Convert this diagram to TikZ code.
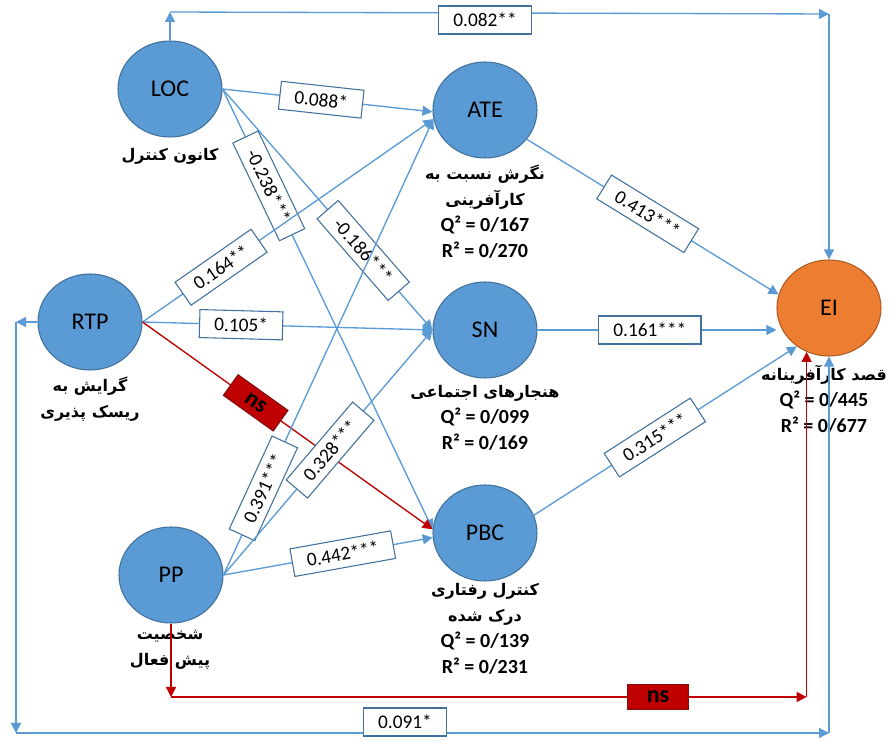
\documentclass[tikz,border=0pt]{standalone}
\usepackage{fontspec}
\setmainfont{Carlito}
\newfontfamily\fafont[Script=Arabic]{DejaVu Sans}
\TeXXeTstate=1
\usetikzlibrary{shapes.geometric,arrows.meta}
\definecolor{nodeblue}{HTML}{5B9BD5}
\definecolor{edgeblue}{HTML}{41719C}
\definecolor{eiorange}{HTML}{ED7D31}
\definecolor{eiedge}{HTML}{AE5A21}
\definecolor{nsred}{HTML}{C00000}
\definecolor{nsedge}{HTML}{7F1010}
\newcommand{\fa}[1]{{\fafont\bfseries\beginR #1\endR}}
\newcommand{\fit}[1]{{\fontsize{15}{19}\selectfont\bfseries #1}}

\begin{document}
\begin{tikzpicture}[x=0.75pt,y=-0.75pt,
    construct/.style={ellipse,draw=edgeblue,fill=nodeblue,line width=0.8pt,
        minimum width=78pt,minimum height=72pt,inner sep=0pt,
        font=\fontsize{18}{20}\selectfont},
    outcome/.style={construct,draw=eiedge,fill=eiorange},
    info/.style={align=center,inner sep=0pt,anchor=north,
        font=\fontsize{12}{19.5}\selectfont},
    link/.style={draw=nodeblue,line width=1pt,-{Triangle[length=7.5pt,width=7.5pt]}},
    redlink/.style={link,draw=nsred,fill=nsred},
    coef/.style={draw=edgeblue,fill=white,line width=0.8pt,inner xsep=11pt,
        minimum height=21pt,font=\fontsize{14.5}{16}\selectfont},
    nsbox/.style={draw=nsedge,fill=nsred,line width=0.8pt,minimum width=46pt,
        minimum height=19pt,inner sep=1pt,font=\fontsize{18}{18}\selectfont\bfseries}]
    \fill[white] (0,0) rectangle (890,741);
    \useasboundingbox (0,0) rectangle (890,741);
    % constructs:
    \node[construct] (LOC) at (170,89) {LOC};
    \node[construct] (ATE) at (485,110) {ATE};
    \node[construct] (RTP) at (90,322) {RTP};
    \node[construct] (SN) at (485,330) {SN};
    \node[construct] (PBC) at (485,533) {PBC};
    \node[construct] (PP) at (171,575) {PP};
    \node[outcome] (EI) at (829,308) {EI};
    % texts:
    \node[info] (LOCtxt) at (170,148) {\fa{کانون کنترل}};
    \node[info] (ATEtxt) at (485,165) {\fa{نگرش نسبت به}\\ \fa{کارآفرینی}\\ \fit{Q² = 0/167}\\ \fit{R² = 0/270}};
    \node[info] (RTPtxt) at (90,377) {\fa{گرایش به}\\ \fa{ریسک پذیری}};
    \node[info] (SNtxt) at (485,385) {\fa{هنجارهای اجتماعی}\\ \fit{Q² = 0/099}\\ \fit{R² = 0/169}};
    \node[info] (EItxt) at (824,365) {\fa{قصد کارآفرینانه}\\ \fit{Q² = 0/445}\\ \fit{R² = 0/677}};
    \node[info] (PBCtxt) at (485,583) {\fa{کنترل رفتاری}\\ \fa{درک شده}\\ \fit{Q² = 0/139}\\ \fit{R² = 0/231}};
    \node[info] (PPtxt) at (170,630) {\fa{شخصیت}\\ \fa{پیش فعال}};
    % paths:
    \draw[link] (LOC.east) -- node[coef,sloped,pos=0.47] (cLOCATE) {0.088*} (ATE.182);
    \draw[link] (LOC.east) -- node[coef,sloped,pos=0.67] (cLOCSN) {-0.186***} (SN.west);
    \draw[link] (LOC.east) -- node[coef,sloped,pos=0.22] (cLOCPBC) {-0.238***} (PBC.176);
    \draw[link] (RTP.east) -- node[coef,sloped,pos=0.27] (cRTPATE) {0.164**} (ATE.190);
    \draw[link] (RTP.east) -- node[coef,sloped,pos=0.34] (cRTPSN) {0.105*} (SN.west);
    \draw[redlink] (RTP.east) -- node[nsbox,sloped,pos=0.39] (cRTPPBC) {ns} (PBC.176);
    \draw[link] (PP.east) -- node[coef,sloped,pos=0.19] (cPPATE) {0.391***} (ATE.190);
    \draw[link] (PP.east) -- node[coef,sloped,pos=0.51] (cPPSN) {0.328***} (SN.west);
    \draw[link] (PP.east) -- node[coef,sloped,pos=0.57] (cPPPBC) {0.442***} (PBC.185);
    \draw[link] (ATE.-35) -- node[coef,sloped,pos=0.48] (cATEEI) {0.413***} (EI.165);
    \draw[link] (SN.east) -- node[coef,pos=0.47] (cSNEI) {0.161***} (SN.east -| EI.west);
    \draw[link] (PBC.20) -- node[coef,sloped,pos=0.46] (cPBCEI) {0.315***} (EI.230);
    % direct paths:
    \coordinate (topL) at (170,12);
    \coordinate (topR) at (829,14);
    \draw[link] (LOC.north) -- (topL);
    \draw[link] (topL) -- (topR);
    \draw[link] (topR) -- (EI.north);
    \node[coef] (cLOCEI) at (485,20) {0.082**};
    \coordinate (botL) at (16,322);
    \coordinate (botB) at (16,733);
    \coordinate (botR) at (829,733);
    \draw[link] (RTP.west) -- (botL);
    \draw[link] (botL) -- (botB);
    \draw[link] (botB) -- (botR);
    \draw[link] (botR) -- (EI.south);
    \node[coef] (cRTPEI) at (405,722) {0.091*};
    \coordinate (redL) at (171,697);
    \coordinate (redR) at (EI.243 |- redL);
    \draw[redlink] (PP.south) -- (redL);
    \draw[redlink] (redL) -- (redR);
    \draw[redlink] (redR) -- (EI.243);
    \node[nsbox] (cPPEI) at (658,697) {ns};
\end{tikzpicture}
\end{document}
